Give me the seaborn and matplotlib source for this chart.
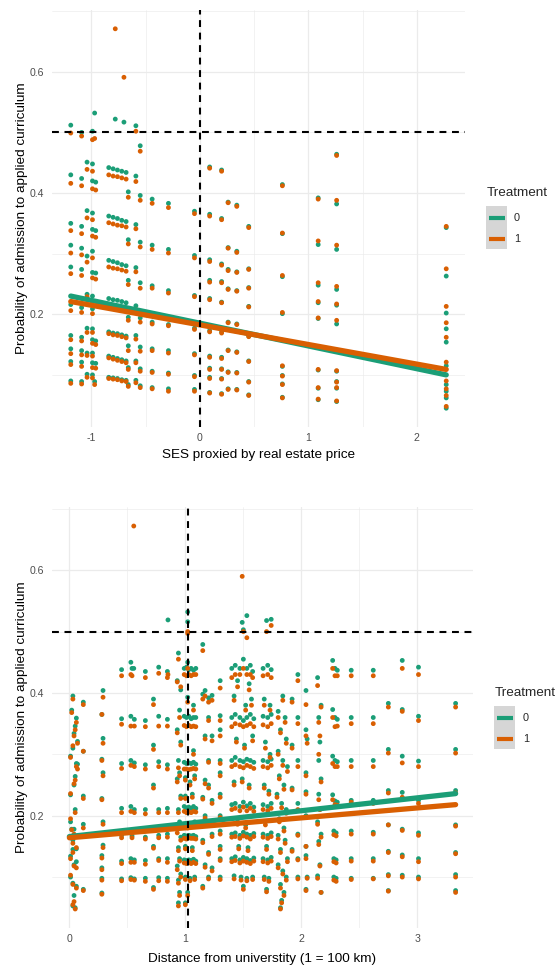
import matplotlib
matplotlib.use("Agg")
import matplotlib.pyplot as plt
import seaborn as sns
import pandas as pd
from matplotlib.patches import Rectangle
from matplotlib.lines import Line2D
from matplotlib.ticker import MultipleLocator

# ---------------- data: panel 1 (SES) ----------------
ses_x = [
    -1.19, -1.19, -1.19, -1.19, -1.19, -1.19, -1.19, -1.19, -1.19, -1.19,
    -1.09, -1.09, -1.09, -1.09, -1.09, -1.09, -1.09, -1.09, -1.09, -1.09,
    -1.04, -1.04, -1.04, -1.04, -1.04, -1.04, -1.04,
    -0.97, -0.99, -0.99, -0.99, -0.96, -0.99, -0.99, -0.96, -0.99, -0.99, -0.96, -0.99, -0.99, -0.99, -0.99, -0.96, -0.99, -0.99, -0.96, -0.99, -0.97,
    -0.84, -0.80, -0.76, -0.72, -0.68,
    -0.84, -0.80, -0.76, -0.72, -0.68,
    -0.84, -0.80, -0.76, -0.72, -0.68,
    -0.84, -0.80, -0.76, -0.72, -0.68,
    -0.84, -0.80, -0.76, -0.72, -0.68,
    -0.84, -0.80, -0.76, -0.72, -0.68,
    -0.84, -0.80, -0.76, -0.72, -0.68,
    -0.78, -0.70,
    -0.66, -0.66, -0.66, -0.66, -0.66, -0.66, -0.66,
    -0.59, -0.59, -0.59, -0.59, -0.59, -0.59, -0.59, -0.59,
    -0.55, -0.55, -0.55, -0.55, -0.55, -0.55, -0.55, -0.55,
    -0.44, -0.44, -0.44, -0.44, -0.44, -0.44, -0.44,
    -0.29, -0.29, -0.29, -0.29, -0.29, -0.29, -0.29,
    -0.05, -0.05, -0.05, -0.05, -0.05, -0.05, -0.05,
    0.09, 0.09, 0.09, 0.09, 0.09, 0.09, 0.09, 0.09, 0.09, 0.09,
    0.20, 0.20, 0.20, 0.20, 0.20, 0.20, 0.20, 0.20, 0.20, 0.20,
    0.26, 0.26, 0.26, 0.26, 0.26, 0.26, 0.26, 0.26,
    0.34, 0.34, 0.34, 0.34, 0.34, 0.34, 0.34, 0.34,
    0.45, 0.45, 0.45, 0.45, 0.45, 0.45, 0.45, 0.45,
    0.76, 0.76, 0.76, 0.76, 0.76, 0.76, 0.76, 0.76,
    1.09, 1.09, 1.09, 1.09, 1.09, 1.09, 1.09, 1.09,
    1.26, 1.26, 1.26, 1.26, 1.26, 1.26, 1.26, 1.26, 1.26, 1.26,
    2.27, 2.27, 2.27, 2.27, 2.27, 2.27, 2.27, 2.27, 2.27, 2.27,
]
ses_p0 = [
    .512, .430, .350, .314, .278, .216, .165, .143, .122, .090,
    .500, .424, .345, .309, .274, .211, .162, .140, .121, .089,
    .451, .371, .296, .233, .177, .136, .101,
    .532, .502, .448, .420, .418, .367, .340, .338, .304, .269, .268, .230, .209, .176, .158, .156, .136, .120, .119, .100, .089,
    .442, .440, .438, .436, .434,
    .362, .360, .358, .355, .353,
    .289, .287, .285, .282, .280,
    .226, .224, .223, .221, .219,
    .171, .169, .168, .166, .164,
    .131, .129, .127, .125, .123,
    .096, .095, .094, .092, .091,
    .522, .517,
    .402, .323, .256, .195, .148, .112, .084,
    .511, .428, .348, .277, .214, .165, .123, .091,
    .478, .396, .319, .252, .194, .146, .110, .082,
    .390, .314, .247, .187, .143, .106, .079,
    .383, .307, .239, .183, .140, .103, .077,
    .370, .297, .231, .177, .135, .099, .076,
    .443, .365, .290, .256, .226, .173, .131, .111, .096, .071,
    .438, .358, .283, .254, .220, .171, .129, .110, .094, .069,
    .385, .310, .274, .242, .187, .141, .105, .077,
    .380, .304, .270, .239, .184, .138, .104, .076,
    .345, .275, .244, .213, .164, .123, .089, .067,
    .414, .333, .262, .201, .114, .099, .085, .063,
    .392, .315, .248, .219, .193, .108, .078, .059,
    .464, .382, .307, .241, .215, .184, .106, .089, .078, .056,
    .343, .263, .202, .176, .154, .115, .084, .073, .062, .045,
]
ses_p1 = [
    .499, .416, .338, .301, .267, .206, .158, .135, .117, .086,
    .494, .412, .333, .298, .264, .203, .156, .133, .114, .085,
    .439, .359, .286, .229, .170, .132, .096,
    .490, .488, .436, .407, .405, .356, .329, .327, .293, .260, .258, .221, .201, .170, .152, .150, .131, .112, .111, .095, .084,
    .430, .428, .427, .425, .423,
    .351, .349, .347, .346, .344,
    .278, .276, .275, .273, .271,
    .215, .214, .213, .211, .210,
    .168, .166, .165, .163, .161,
    .128, .126, .124, .122, .120,
    .094, .093, .092, .090, .089,
    .671, .591,
    .393, .316, .249, .190, .140, .109, .081,
    .502, .419, .341, .270, .208, .159, .120, .087,
    .469, .388, .311, .243, .187, .139, .106, .079,
    .383, .307, .243, .184, .140, .104, .077,
    .376, .301, .235, .181, .136, .101, .073,
    .366, .293, .229, .175, .133, .097, .073,
    .441, .362, .287, .253, .224, .171, .129, .109, .094, .070,
    .436, .356, .281, .252, .219, .169, .127, .109, .093, .068,
    .384, .309, .272, .241, .186, .140, .104, .076,
    .378, .302, .269, .238, .183, .137, .103, .075,
    .343, .274, .243, .212, .163, .122, .088, .066,
    .412, .334, .264, .203, .115, .098, .084, .062,
    .390, .321, .252, .221, .194, .109, .079, .060,
    .462, .388, .314, .246, .217, .190, .107, .088, .079, .057,
    .345, .275, .213, .186, .162, .121, .090, .077, .066, .048,
]
# fitted lines (SES panel)
ses_fit_x = [-1.19, 2.27]
ses_fit_p0 = [0.230, 0.100]
ses_fit_p1 = [0.221, 0.109]

# ---------------- data: panel 2 (distance) ----------------
dist_x = [
    0.02, 0.03, 0.12, 0.06, 0.05, 0.04, 0.07, 0.03, 0.12, 0.01, 0.06, 0.07, 0.05, 0.04, 0.01, 0.12, 0.05,
    0.01, 0.04, 0.12, 0.02, 0.03, 0.06, 0.03, 0.01, 0.06, 0.04, 0.01, 0.03, 0.06, 0.12, 0.04, 0.03, 0.05,
    0.29, 0.28, 0.29, 0.28, 0.29, 0.28, 0.29, 0.29, 0.28, 0.28, 0.28, 0.28,
    0.45, 0.45, 0.45, 0.45, 0.45, 0.45, 0.45,
    0.53, 0.54, 0.53, 0.56, 0.53, 0.56, 0.53, 0.56, 0.54, 0.53, 0.56, 0.53, 0.56, 0.555,
    0.655, 0.655, 0.655, 0.655, 0.655, 0.655, 0.655,
    0.725, 0.725, 0.725, 0.725, 0.725, 0.725,
    0.77, 0.77, 0.77, 0.77, 0.77, 0.77, 0.77,
    0.845, 0.845, 0.845, 0.845, 0.845, 0.845, 0.845, 0.85,
    0.94, 0.93, 0.96, 0.95, 0.93, 0.96, 0.94, 0.95, 0.93, 0.96, 0.94, 0.95, 0.93, 0.96, 0.94, 0.95, 0.93, 0.96, 0.94, 0.95, 0.94,
    1.02, 1.02, 1.02,
    0.99, 1.01, 1.03, 1.05, 1.07, 1.09,
    1.02, 1.07,
    0.99, 1.01, 1.03, 1.05, 1.07, 1.09,
    1.07,
    0.99, 1.01, 1.03, 1.05, 1.07, 1.09,
    1.00, 1.04, 1.08,
    1.00, 1.06,
    0.99, 1.01, 1.03, 1.05, 1.07, 1.09,
    1.02, 1.08,
    0.99, 1.01, 1.03, 1.05, 1.07, 1.09,
    1.00, 1.06,
    0.99, 1.01, 1.03, 1.05, 1.07, 1.09,
    1.00, 1.04, 1.08,
    1.02, 1.00,
    1.15, 1.17, 1.15, 1.20, 1.23, 1.20, 1.17, 1.23, 1.20, 1.17, 1.20, 1.15, 1.23, 1.17, 1.20, 1.23, 1.15, 1.20, 1.17, 1.23, 1.20, 1.15,
    1.30, 1.30, 1.30, 1.30, 1.30, 1.30, 1.30, 1.30, 1.30, 1.30, 1.30,
    1.49, 1.53, 1.50,
    1.40, 1.43, 1.47, 1.50, 1.53, 1.56, 1.58, 1.45, 1.55,
    1.42, 1.52, 1.57,
    1.40, 1.43, 1.47, 1.50, 1.53, 1.56, 1.59,
    1.44, 1.51, 1.58,
    1.40, 1.43, 1.47, 1.50, 1.53, 1.56, 1.59,
    1.42, 1.49, 1.55,
    1.40, 1.43, 1.47, 1.50, 1.53, 1.56, 1.59,
    1.45, 1.52,
    1.40, 1.43, 1.47, 1.50, 1.53, 1.56, 1.59,
    1.46, 1.54,
    1.40, 1.43, 1.47, 1.50, 1.53, 1.56, 1.59,
    1.42, 1.48, 1.53, 1.58,
    1.50,
    1.70, 1.74,
    1.67, 1.71, 1.74, 1.68, 1.73, 1.67, 1.71, 1.74, 1.69, 1.73, 1.67, 1.71, 1.74, 1.68, 1.72,
    1.67, 1.71, 1.74, 1.69, 1.67, 1.71, 1.74, 1.70, 1.67, 1.71, 1.74, 1.68, 1.72, 1.70,
    1.84, 1.80, 1.86, 1.82, 1.87, 1.80, 1.84, 1.88, 1.81, 1.85, 1.79, 1.83, 1.87,
    1.81, 1.85, 1.80, 1.86, 1.82, 1.88, 1.80, 1.84, 1.87, 1.82, 1.85, 1.83, 1.82,
    1.92, 1.92, 1.92, 1.92,
    1.97, 1.97, 1.97, 1.97, 1.97, 1.97, 1.97,
    2.04, 2.04, 2.05, 2.04, 2.04, 2.04, 2.04, 2.04, 2.05, 2.04,
    2.14, 2.17, 2.15, 2.16, 2.15, 2.17, 2.15, 2.16, 2.14, 2.17, 2.15, 2.16, 2.14, 2.17,
    2.27, 2.29, 2.31, 2.27, 2.29, 2.31, 2.27, 2.29, 2.31, 2.27, 2.29, 2.31, 2.28, 2.30, 2.28, 2.30, 2.28, 2.30,
    2.43, 2.43, 2.43, 2.43, 2.43, 2.43, 2.43,
    2.62, 2.62, 2.62, 2.62, 2.62, 2.62, 2.62,
    2.75, 2.75, 2.75, 2.75, 2.75, 2.75, 2.75,
    2.87, 2.87, 2.87, 2.87, 2.87, 2.87, 2.87,
    3.01, 3.01, 3.01, 3.01, 3.01, 3.01, 3.01,
    3.33, 3.33, 3.33, 3.33, 3.33, 3.33, 3.33,
]
dist_p0 = [
    .372, .395, .385, .359, .346, .334, .321, .310, .305, .297, .285, .284, .264, .250, .234, .232, .210,
    .190, .178, .186, .178, .160, .146, .145, .134, .125, .120, .100, .090, .085, .080, .070, .053, .050,
    .404, .365, .326, .292, .270, .228, .190, .152, .135, .115, .098, .074,
    .438, .358, .285, .212, .168, .126, .097,
    .450, .440, .362, .357, .290, .286, .215, .210, .167, .130, .128, .099, .097, .440,
    .435, .355, .283, .210, .165, .127, .098,
    .390, .315, .250, .180, .150, .083,
    .442, .362, .288, .210, .168, .130, .099,
    .435, .357, .283, .212, .170, .130, .098, .519,
    .465, .420, .405, .372, .340, .320, .290, .270, .260, .232, .210, .190, .178, .165, .148, .130, .118, .105, .095, .075, .058,
    .532, .516, .450,
    .440, .442, .438, .440, .437, .440,
    .393, .380,
    .362, .360, .362, .358, .360, .360,
    .306,
    .287, .285, .286, .285, .287, .284,
    .262, .255, .265,
    .232, .235,
    .215, .213, .214, .212, .215, .212,
    .185, .190,
    .168, .167, .168, .167, .168, .166,
    .150, .148,
    .128, .127, .128, .127, .129, .126,
    .100, .098, .100,
    .075, .058,
    .479, .404, .398, .392, .396, .360, .330, .330, .290, .258, .250, .230, .225, .200, .190, .170, .160, .140, .120, .115, .100, .085,
    .420, .363, .340, .290, .270, .235, .200, .175, .150, .130, .100,
    .515, .526, .503,
    .440, .445, .440, .455, .440, .445, .435, .420, .415,
    .395, .380, .390,
    .360, .365, .360, .355, .360, .365, .358,
    .325, .315, .330,
    .290, .295, .290, .288, .292, .290, .287,
    .255, .260, .250,
    .218, .220, .215, .222, .216, .220, .214,
    .190, .185,
    .170, .172, .168, .173, .170, .168, .171,
    .150, .148,
    .130, .133, .128, .132, .130, .127, .131,
    .102, .100, .098, .100,
    .085,
    .518, .520,
    .440, .445, .438, .390, .380, .362, .360, .365, .320, .300, .290, .288, .292, .250, .240,
    .218, .215, .220, .190, .170, .168, .172, .150, .130, .128, .132, .100, .098, .080,
    .395, .370, .360, .340, .325, .305, .290, .280, .265, .250, .235, .220, .210,
    .195, .180, .168, .160, .145, .130, .120, .110, .100, .088, .075, .062, .050,
    .390, .315, .245, .145,
    .430, .360, .290, .220, .170, .130, .100,
    .404, .340, .325, .270, .239, .200, .150, .135, .100, .080,
    .425, .380, .360, .320, .290, .260, .235, .210, .190, .170, .158, .120, .102, .075,
    .453, .440, .437, .373, .360, .357, .297, .290, .288, .234, .224, .222, .175, .172, .130, .128, .100, .098,
    .437, .360, .290, .225, .175, .130, .098,
    .437, .360, .290, .225, .173, .130, .098,
    .383, .308, .241, .185, .142, .104, .078,
    .453, .373, .297, .238, .178, .136, .103,
    .442, .362, .289, .225, .172, .130, .100,
    .383, .308, .241, .185, .140, .104, .078,
]
dist_p1 = [
    .368, .390, .381, .352, .340, .330, .318, .314, .305, .295, .280, .276, .258, .252, .236, .228, .205,
    .195, .170, .180, .177, .155, .148, .140, .130, .115, .118, .103, .088, .082, .078, .060, .055, .048,
    .393, .365, .318, .290, .265, .226, .186, .148, .131, .112, .095, .072,
    .428, .349, .277, .205, .164, .122, .094,
    .430, .428, .346, .346, .282, .280, .207, .205, .164, .124, .124, .096, .095, .672,
    .425, .345, .276, .203, .162, .121, .093,
    .381, .308, .245, .178, .147, .080,
    .432, .346, .280, .205, .164, .127, .094,
    .425, .346, .276, .205, .165, .124, .093, .430,
    .455, .418, .410, .360, .335, .315, .278, .265, .255, .228, .205, .185, .172, .160, .143, .126, .112, .100, .090, .070, .053,
    .500, .497, .440,
    .430, .428, .430, .428, .430, .430,
    .385, .372,
    .347, .345, .347, .345, .346, .345,
    .300,
    .276, .276, .275, .276, .277, .276,
    .258, .250, .260,
    .228, .230,
    .207, .205, .206, .205, .207, .206,
    .180, .183,
    .163, .162, .164, .163, .163, .162,
    .146, .143,
    .123, .122, .124, .122, .124, .122,
    .096, .094, .096,
    .070, .055,
    .469, .395, .390, .385, .388, .355, .325, .322, .287, .252, .245, .227, .220, .196, .186, .166, .156, .137, .116, .110, .097, .082,
    .408, .355, .330, .285, .265, .230, .197, .170, .145, .127, .096,
    .590, .490, .500,
    .425, .430, .430, .440, .430, .430, .425, .410, .405,
    .388, .372, .380,
    .345, .350, .348, .345, .347, .350, .345,
    .320, .310, .322,
    .280, .283, .280, .278, .282, .280, .277,
    .250, .255, .245,
    .210, .212, .208, .214, .208, .212, .207,
    .186, .180,
    .165, .166, .163, .167, .165, .162, .166,
    .146, .143,
    .125, .127, .123, .126, .124, .122, .126,
    .097, .095, .094, .096,
    .080,
    .500, .510,
    .428, .430, .425, .380, .372, .348, .345, .350, .310, .295, .280, .278, .282, .245, .235,
    .210, .208, .212, .185, .165, .163, .166, .145, .125, .123, .126, .096, .093, .076,
    .388, .360, .352, .335, .318, .300, .282, .272, .260, .243, .230, .213, .204,
    .190, .175, .162, .155, .140, .125, .115, .105, .095, .082, .070, .058, .048,
    .385, .310, .242, .142,
    .420, .350, .280, .210, .168, .128, .097,
    .381, .330, .318, .265, .235, .197, .150, .130, .098, .078,
    .412, .377, .352, .330, .300, .255, .226, .210, .186, .165, .153, .118, .098, .075,
    .440, .428, .428, .360, .345, .346, .285, .280, .280, .226, .218, .217, .169, .167, .125, .123, .095, .093,
    .428, .350, .280, .222, .170, .126, .096,
    .428, .350, .280, .220, .170, .126, .097,
    .377, .302, .237, .185, .140, .102, .077,
    .440, .370, .286, .230, .176, .133, .100,
    .430, .355, .280, .220, .168, .125, .097,
    .377, .302, .237, .183, .138, .100, .075,
]
# fitted lines (distance panel)
dist_fit_x = [0.0, 3.33]
dist_fit_p0 = [0.166, 0.236]
dist_fit_p1 = [0.164, 0.218]

treat_levels = ["0", "1"]
GREEN, ORANGE = "#1B9E77", "#D95F02"
palette = {"0": GREEN, "1": ORANGE}

assert len(ses_x) == len(ses_p0) == len(ses_p1), (len(ses_x), len(ses_p0), len(ses_p1))
assert len(dist_x) == len(dist_p0) == len(dist_p1), (len(dist_x), len(dist_p0), len(dist_p1))


def long_df(x, p0, p1):
    return pd.DataFrame({
        "x": list(x) + list(x),
        "p": list(p0) + list(p1),
        "Treatment": ["0"] * len(x) + ["1"] * len(x),
    })


sns.set_theme(style="white")
plt.rcParams["font.family"] = ["Liberation Sans", "DejaVu Sans"]
plt.rcParams["axes.unicode_minus"] = False

W, H = 558, 968
fig = plt.figure(figsize=(W / 100, H / 100), dpi=100)
ax1 = fig.add_axes([52 / W, 1 - 427 / H, 413 / W, 417 / H])
ax2 = fig.add_axes([52 / W, 1 - 928 / H, 421 / W, 421 / H])

YLABEL = "Probability of admission to applied curriculum"


def draw(ax, x, p0, p1, fx, f0, f1, xlabel, xlim, ylim, vline, hline, xpad):
    pts = long_df(x, p0, p1)
    fit = long_df(fx, f0, f1)
    sns.scatterplot(data=pts, x="x", y="p", hue="Treatment", hue_order=treat_levels,
                    palette=palette, s=12, linewidth=0, alpha=1, ax=ax, legend=False, zorder=3)
    sns.lineplot(data=fit, x="x", y="p", hue="Treatment", hue_order=treat_levels,
                 palette=palette, lw=3.8, ax=ax, legend=False, zorder=4, errorbar=None)
    ax.axhline(hline, color="black", lw=1.5, ls=(0, (3.3, 2.7)), zorder=5)
    ax.axvline(vline, color="black", lw=1.5, ls=(0, (3.3, 2.7)), zorder=5)
    ax.set_xlim(xlim)
    ax.set_ylim(ylim)
    ax.xaxis.set_major_locator(MultipleLocator(1))
    ax.xaxis.set_minor_locator(MultipleLocator(0.5))
    ax.yaxis.set_major_locator(MultipleLocator(0.2))
    ax.yaxis.set_minor_locator(MultipleLocator(0.1))
    ax.grid(which="major", color="#EBEBEB", lw=0.9)
    ax.grid(which="minor", color="#EBEBEB", lw=0.45)
    ax.set_axisbelow(True)
    for s in ax.spines.values():
        s.set_visible(False)
    ax.tick_params(which="both", length=0, labelsize=7.6, labelcolor="#4D4D4D")
    ax.tick_params(axis="x", pad=4.5)
    ax.tick_params(axis="y", pad=5.4)
    ax.set_xlabel(xlabel, fontsize=9.7, labelpad=xpad, color="black")
    ax.set_ylabel(YLABEL, fontsize=9.7, labelpad=1.5, color="black")


def add_legend(title_xy, box_x, box_top, rows_y, label_x):
    fig.text(title_xy[0] / W, 1 - title_xy[1] / H, "Treatment", fontsize=9.7,
             ha="left", va="center")
    fig.add_artist(Rectangle((box_x / W, 1 - (box_top + 43) / H), 21 / W, 43 / H,
                             transform=fig.transFigure, facecolor="#D6D6D6",
                             edgecolor="none"))
    for t, y in zip(treat_levels, rows_y):
        fig.add_artist(Line2D([(box_x + 2.5) / W, (box_x + 18.5) / W], [1 - y / H, 1 - y / H],
                              transform=fig.transFigure, color=palette[t], lw=3.0,
                              solid_capstyle="butt"))
        fig.text(label_x / W, 1 - y / H, t, fontsize=7.8, ha="left", va="center")


draw(ax1, ses_x, ses_p0, ses_p1, ses_fit_x, ses_fit_p0, ses_fit_p1,
     "SES proxied by real estate price", (-1.363, 2.443), (0.014, 0.702), 0.0, 0.5, 4)
draw(ax2, dist_x, dist_p0, dist_p1, dist_fit_x, dist_fit_p0, dist_fit_p1,
     "Distance from universtity (1 = 100 km)", (-0.15, 3.48), (0.017, 0.703), 1.025, 0.5, 6)

add_legend((487, 193), 486, 206, (218, 239), 514)
add_legend((495, 693), 494, 706, (718, 739), 523)

fig.savefig("out.png", dpi=100)
